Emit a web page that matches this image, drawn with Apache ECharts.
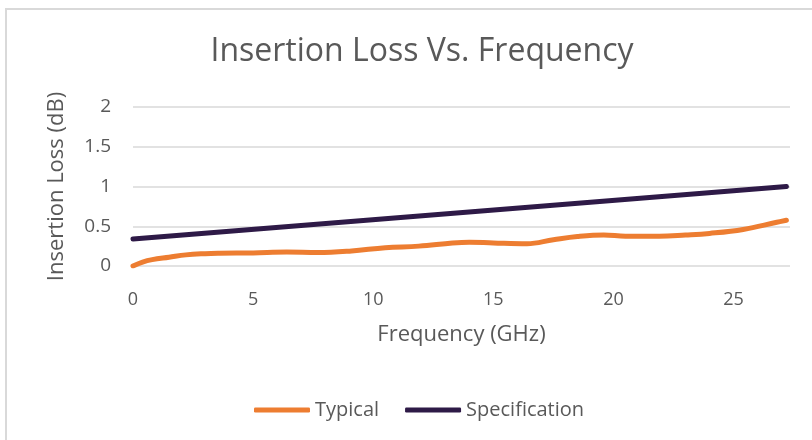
<!DOCTYPE html>
<html>
    <head>
        <meta charset="UTF-8">
        <title>Insertion Loss Vs. Frequency</title>
        <style type="text/css">
            body,html{ margin: 0; padding: 0; width: 812px; height: 440px; overflow: hidden; background: #fff;}
            #chart{ width: 812px; height: 440px;}
        </style>
    </head>
    <body>
        <div id="chart"></div>

        <script src="https://cdn.jsdelivr.net/npm/echarts@6/dist/echarts.min.js"></script>
        <script type="text/javascript">
            // values
            var freqTypical = [0, 0.4, 0.8, 1.5, 2.2, 3.0, 3.6, 5, 6.4, 7.7, 9.1, 10.5, 11.9, 13.3, 14, 15, 16.4, 17.5, 18.5, 19.6, 20.5, 21.9, 23, 24, 25.4, 26.8, 27.2];
            var typical = [0.0, 0.05, 0.08, 0.11, 0.14, 0.155, 0.16, 0.165, 0.175, 0.17, 0.19, 0.23, 0.25, 0.29, 0.30, 0.29, 0.28, 0.33, 0.37, 0.39, 0.375, 0.375, 0.39, 0.41, 0.46, 0.55, 0.575];
            var freqSpec = [0, 27.2];
            var spec = [0.34, 1.0];
            var yTicks = [0, 0.5, 1, 1.5, 2];

            var txt = '#595959';
            var font = 'Open Sans';

            function pairs(xs, ys) {
                return xs.map(function (x, i) { return [x, ys[i]]; });
            }

            var myChart = echarts.init(document.getElementById('chart'));
            var option = {
                animation: false,
                textStyle: { fontFamily: font },
                graphic: [{
                    type: 'rect',
                    shape: { x: 6, y: 9, width: 900, height: 500 },
                    style: { fill: 'none', stroke: '#d9d9d9', lineWidth: 2 },
                    silent: true
                }],
                title: {
                    text: 'Insertion Loss Vs. Frequency',
                    left: 417,
                    textAlign: 'center',
                    top: 31,
                    textStyle: { color: txt, fontSize: 32, fontWeight: 'normal', fontFamily: font }
                },
                legend: {
                    top: 395,
                    left: 249,
                    itemWidth: 56,
                    itemHeight: 5,
                    itemGap: 26,
                    icon: 'roundRect',
                    textStyle: { color: txt, fontSize: 20, fontFamily: font },
                    data: ['Typical', 'Specification']
                },
                grid: { left: 133, right: 22, top: 107, bottom: 174 },
                xAxis: {
                    type: 'value',
                    min: 0,
                    max: 27.35,
                    interval: 5,
                    name: 'Frequency (GHz)',
                    nameLocation: 'middle',
                    nameGap: 58,
                    nameTextStyle: { color: txt, fontSize: 22 },
                    axisLine: { show: false },
                    axisTick: { show: false },
                    splitLine: { show: false },
                    axisLabel: {
                        color: txt, fontSize: 18, margin: 25,
                        showMaxLabel: false
                    }
                },
                yAxis: {
                    type: 'value',
                    min: yTicks[0],
                    max: yTicks[yTicks.length - 1],
                    interval: 0.5,
                    name: 'Insertion Loss (dB)',
                    nameLocation: 'middle',
                    nameGap: 65,
                    nameTextStyle: { color: txt, fontSize: 22 },
                    axisLine: { show: false },
                    axisTick: { show: false },
                    axisLabel: { color: txt, fontSize: 19, margin: 22 },
                    splitLine: { lineStyle: { color: '#d9d9d9', width: 1.5 } }
                },
                series: [{
                    name: 'Typical',
                    type: 'line',
                    smooth: 0.4,
                    showSymbol: false,
                    symbol: 'none',
                    color: '#ED7D31',
                    lineStyle: { width: 5, cap: 'round' },
                    data: pairs(freqTypical, typical)
                }, {
                    name: 'Specification',
                    type: 'line',
                    showSymbol: false,
                    symbol: 'none',
                    color: '#2E1A47',
                    lineStyle: { width: 5, cap: 'round' },
                    data: pairs(freqSpec, spec)
                }]
            };
            myChart.setOption(option);
        </script>
    </body>
</html>
